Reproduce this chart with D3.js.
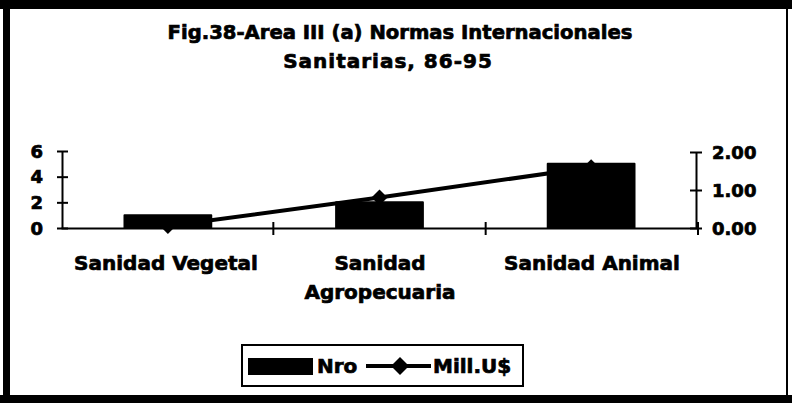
<!DOCTYPE html>
<html>
<head>
<meta charset="utf-8">
<script src="https://cdn.jsdelivr.net/npm/d3@7"></script>
<style>
  html, body { margin: 0; padding: 0; background: #fff; }
  svg { display: block; }
  text { font-family: "DejaVu Sans", sans-serif; font-weight: bold; fill: #000; stroke: #000; stroke-width: 0.7px; }
</style>
</head>
<body>
<svg id="chart" width="792" height="403"></svg>
<script>
// ---- data ----
const categories = ["Sanidad Vegetal", "Sanidad\nAgropecuaria", "Sanidad Animal"];
const nroValues = [1, 2, 5];
const millValues = [0.05, 0.8, 1.6];
const leftTicks = [0, 2, 4, 6];
const rightTicks = [0, 1, 2];
const titleLines = ["Fig.38-Area III (a) Normas Internacionales", "Sanitarias, 86-95"];
const legendLabels = ["Nro", "Mill.U$"];

const svg = d3.select("#chart");

// frame
svg.append("rect").attr("x", 0).attr("y", 0).attr("width", 792).attr("height", 403).attr("fill", "#fff");
svg.append("rect").attr("x", 0).attr("y", 0).attr("width", 792).attr("height", 9).attr("fill", "#000");
svg.append("rect").attr("x", 3).attr("y", 0).attr("width", 7).attr("height", 403).attr("fill", "#000");
svg.append("rect").attr("x", 0).attr("y", 395).attr("width", 792).attr("height", 8).attr("fill", "#000");
svg.append("rect").attr("x", 786).attr("y", 0).attr("width", 2).attr("height", 403).attr("fill", "#000");

// title
svg.append("text").attr("x", 400).attr("y", 39).attr("text-anchor", "middle")
  .style("font-size", "19.6px").text(titleLines[0]);
svg.append("text").attr("x", 388).attr("y", 68).attr("text-anchor", "middle")
  .style("font-size", "20px").style("letter-spacing", "1px").text(titleLines[1]);

// scales
const x = d3.scaleBand().domain(categories).range([61, 698]).paddingInner(0.59).paddingOuter(0.3);
const xb = d3.scaleBand().domain(categories).range([61, 698]).padding(0);
const yL = d3.scaleLinear().domain([0, 6]).range([228, 151]);
const yR = d3.scaleLinear().domain([0, 2]).range([228, 152]);

// bars
svg.append("g").selectAll("rect").data(nroValues).join("rect")
  .attr("x", (d, i) => x(categories[i]))
  .attr("y", d => yL(d))
  .attr("width", x.bandwidth())
  .attr("height", d => yL(0) - yL(d))
  .attr("fill", "#000").attr("stroke", "#000").attr("stroke-width", 2).attr("stroke-linejoin", "round");

// left axis
const gL = svg.append("g").attr("transform", "translate(62,0)")
  .call(d3.axisLeft(yL).tickValues(leftTicks).tickSize(0).tickPadding(0).tickFormat(d3.format("d")));
gL.select(".domain").attr("stroke", "#000").attr("stroke-width", 2);
gL.selectAll(".tick").append("line").attr("x1", -5).attr("x2", 6).attr("stroke", "#000").attr("stroke-width", 2);
gL.selectAll(".tick text").attr("x", -19).attr("dy", "0.35em").style("font-size", "18px")
  .style("font-family", "'DejaVu Sans', sans-serif").style("font-weight", "bold").attr("fill", "#000");

// right axis
const gR = svg.append("g").attr("transform", "translate(696,0)")
  .call(d3.axisRight(yR).tickValues(rightTicks).tickSize(0).tickPadding(0).tickFormat(d3.format(".2f")));
gR.select(".domain").attr("stroke", "#000").attr("stroke-width", 2);
gR.selectAll(".tick").append("line").attr("x1", -6).attr("x2", 6).attr("stroke", "#000").attr("stroke-width", 2);
gR.selectAll(".tick text").attr("x", 16).attr("dy", "0.35em").style("font-size", "18px")
  .style("font-family", "'DejaVu Sans', sans-serif").style("font-weight", "bold").attr("fill", "#000");

// category axis
const gX = svg.append("g").attr("transform", "translate(0,228)")
  .call(d3.axisBottom(xb).tickSize(0).tickFormat(""));
gX.select(".domain").attr("stroke", "#000").attr("stroke-width", 2);
gX.selectAll(".tick").remove();
const boundaries = categories.map(c => xb(c)).concat([xb(categories[categories.length - 1]) + xb.bandwidth()]);
gX.selectAll("line.bt").data(boundaries.slice(1)).join("line").attr("class", "bt")
  .attr("x1", d => d).attr("x2", d => d).attr("y1", -6).attr("y2", 7)
  .attr("stroke", "#000").attr("stroke-width", 2);

// category labels
const labelX = [166, 380, 592];
categories.forEach((c, i) => {
  const lines = c.split("\n");
  const t = svg.append("text").attr("text-anchor", "middle").style("font-size", "20px");
  lines.forEach((ln, j) => {
    t.append("tspan").attr("x", labelX[i]).attr("y", 270 + j * 29).text(ln);
  });
});

// line series
const cx = (i) => x(categories[i]) + x.bandwidth() / 2;
const line = d3.line().x((d, i) => cx(i)).y(d => yR(d));
svg.append("path").datum(millValues).attr("d", line)
  .attr("fill", "none").attr("stroke", "#000").attr("stroke-width", 4);
const diamond = (s) => `M0,${-s}L${s},0L0,${s}L${-s},0Z`;
svg.append("g").selectAll("path").data(millValues).join("path")
  .attr("transform", (d, i) => `translate(${cx(i)},${yR(d)})`)
  .attr("d", diamond(8)).attr("fill", "#000");

// legend
const lg = svg.append("g");
lg.append("rect").attr("x", 242).attr("y", 345).attr("width", 281).attr("height", 41)
  .attr("fill", "#fff").attr("stroke", "#000").attr("stroke-width", 2);
lg.append("rect").attr("x", 248).attr("y", 358).attr("width", 65).attr("height", 17).attr("fill", "#000");
lg.append("text").attr("x", 317).attr("y", 373).style("font-size", "20px").text(legendLabels[0]);
lg.append("line").attr("x1", 366).attr("x2", 431).attr("y1", 366).attr("y2", 366)
  .attr("stroke", "#000").attr("stroke-width", 4);
lg.append("path").attr("transform", "translate(400,366)").attr("d", diamond(9)).attr("fill", "#000");
lg.append("text").attr("x", 433).attr("y", 373).style("font-size", "20px").text(legendLabels[1]);
</script>
</body>
</html>
